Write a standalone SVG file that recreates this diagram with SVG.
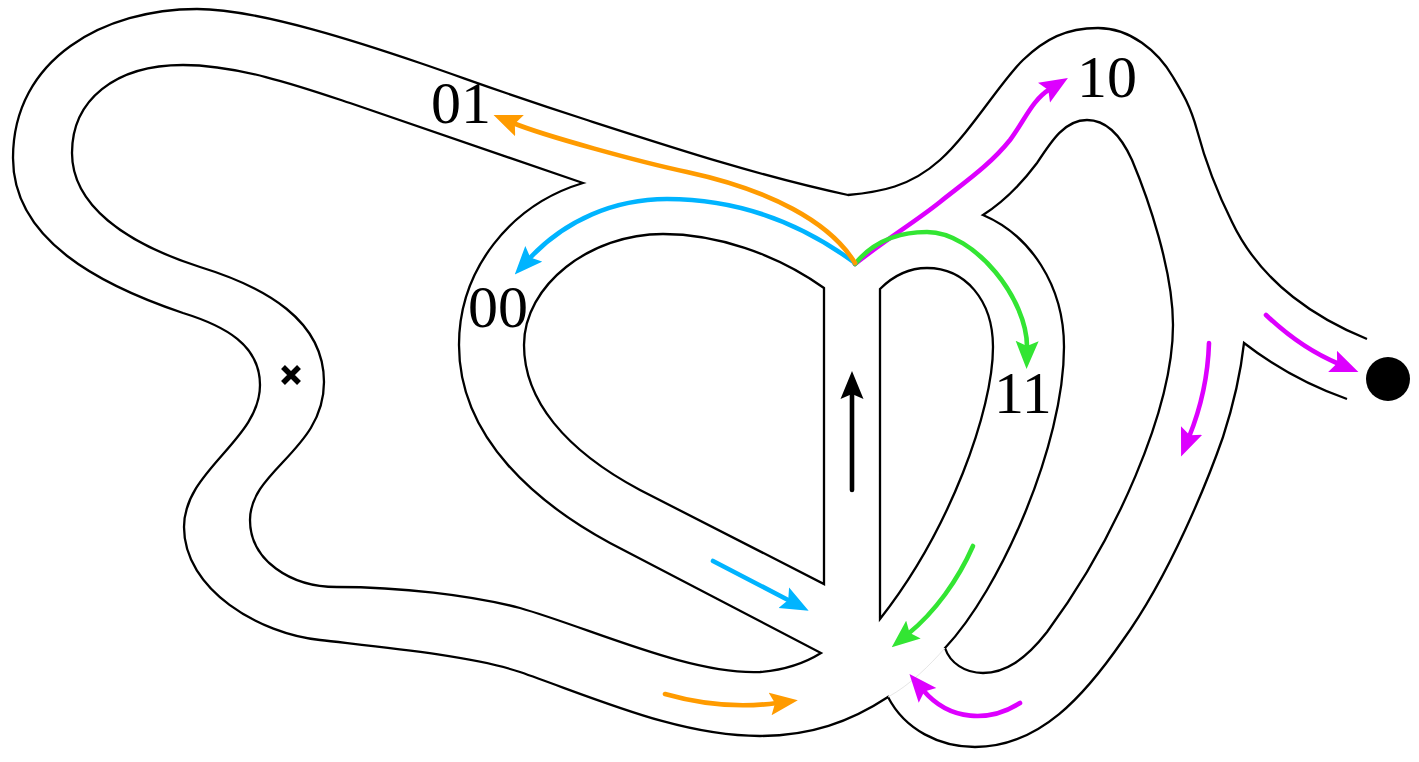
<svg xmlns="http://www.w3.org/2000/svg" width="1419" height="762" viewBox="0 0 1419 762">
<style>
.w{fill:none;stroke:#000;stroke-width:2.3;stroke-linejoin:miter}
.a{fill:none;stroke-width:4.6;stroke-linecap:round}
.t{font-family:"Liberation Serif","Times New Roman",serif;font-size:60px;fill:#000}
</style>
<defs>
<marker id="mk" viewBox="0 0 28 24" refX="7" refY="12" markerWidth="28" markerHeight="24" markerUnits="userSpaceOnUse" orient="auto"><path d="M28 12L0 23.500L5 12L0 .5Z" fill="#000"/></marker>
<marker id="mb" viewBox="0 0 28 24" refX="7" refY="12" markerWidth="28" markerHeight="24" markerUnits="userSpaceOnUse" orient="auto"><path d="M28 12L0 23.500L5 12L0 .5Z" fill="#00b4ff"/></marker>
<marker id="mo" viewBox="0 0 28 24" refX="7" refY="12" markerWidth="28" markerHeight="24" markerUnits="userSpaceOnUse" orient="auto"><path d="M28 12L0 23.500L5 12L0 .5Z" fill="#ff9b00"/></marker>
<marker id="mp" viewBox="0 0 28 24" refX="7" refY="12" markerWidth="28" markerHeight="24" markerUnits="userSpaceOnUse" orient="auto"><path d="M28 12L0 23.500L5 12L0 .5Z" fill="#dd00ff"/></marker>
<marker id="mg" viewBox="0 0 28 24" refX="7" refY="12" markerWidth="28" markerHeight="24" markerUnits="userSpaceOnUse" orient="auto"><path d="M28 12L0 23.500L5 12L0 .5Z" fill="#33e533"/></marker>
</defs>
<g id="walls">
<path id="outer-top" class="w" d="M1367 339C1320 320 1262 285 1232 222C1218 194 1205 160 1197 130C1190 105 1182 92 1173 77C1158 51 1130 28 1098 28C1066 28 1045 39 1023 60C1001 81 970 133 940 160C910 187 880 192 848 195C760 176 680 150 587 120C494 90 470 80 420 63C370 46 260 9 197 9C105 9 13 58 13 158C13 240 100 285 183 313C225 326 260 345 260 385C260 440 184 470 184 527C184 590 260 634 320 640C370 646 470 655 520 672C600 700 680 736 760 736C810 736 850 722 888 697C905 730 940 747 975 747C1040 747 1085 695 1123 640C1170 575 1208 480 1223 437C1236 397 1241 370 1244 343C1275 367 1310 386 1347 399"/>
<path id="outer-inner" class="w" d="M583 183L350 103C305 88 240 65 183 65C115 65 72 100 72 153C72 205 125 243 200 267C265 287 324 320 324 382C324 450 250 470 250 520C250 560 290 587 337 587C400 587 470 595 520 608C590 628 690 675 760 672C785 670 805 663 821 653L610 543C540 505 459 440 459 345C459 270 510 205 583 183Z"/>
<path id="loop-left" class="w" d="M824 288C775 253 715 234 663 234C590 234 524 285 524 345C524 400 565 450 640 490L824 584Z"/>
<path id="loop-right" class="w" d="M880 289C893 276 908 268 927 268C965 268 993 300 993 347C993 410 950 530 880 619Z"/>
<path id="loop-far" class="w" d="M983 215C1005 201 1022 183 1037 163C1052 140 1065 120 1087 120C1108 120 1122 138 1132 160C1148 198 1173 270 1173 325C1173 410 1115 540 1047 632C1025 660 1005 673 983 673C965 673 950 663 945 648C1000 590 1064 445 1064 347C1064 285 1030 235 983 215Z"/>
<path id="faint" fill="none" stroke="#e6e6e6" stroke-width="1" d="M888 697C910 685 930 665 945 648"/>
</g>
<g id="connectors">
<path class="a" stroke="#dd00ff" marker-end="url(#mp)" d="M855 264C885 240 915 222 940 202C965 182 990 165 1010 140C1025 120 1032 100 1050 89"/>
<path class="a" stroke="#33e533" marker-end="url(#mg)" d="M855 264C872 243 897 232 927 232C975 232 1028 300 1027 348"/>
<path class="a" stroke="#00b4ff" marker-end="url(#mb)" d="M855 263C790 215 725 199 667 199C615 199 565 220 529 259"/>
<path class="a" stroke="#ff9b00" marker-end="url(#mo)" d="M855 263C830 222 770 190 687 172C640 162 545 136 513 123"/>
<path class="a" stroke="#000" marker-end="url(#mk)" d="M852 490V392"/>
<path class="a" stroke="#00b4ff" marker-end="url(#mb)" d="M713 561L790 601"/>
<path class="a" stroke="#ff9b00" marker-end="url(#mo)" d="M665 694C700 704 740 708 777 703"/>
<path class="a" stroke="#33e533" marker-end="url(#mg)" d="M973 546C958 580 935 612 908 634"/>
<path class="a" stroke="#dd00ff" marker-end="url(#mp)" d="M1020 703C990 722 950 722 923 690"/>
<path class="a" stroke="#dd00ff" marker-end="url(#mp)" d="M1209 343C1208 375 1202 405 1189 437"/>
<path class="a" stroke="#dd00ff" marker-end="url(#mp)" d="M1266 315C1287 335 1310 352 1339 364"/>
</g>
<g id="start"><path d="M283 367L299 383M299 367L283 383" stroke="#000" stroke-width="5.5" fill="none"/></g>
<g id="end"><circle cx="1388" cy="379" r="22" fill="#000"/></g>
<g id="labels">
<text class="t" x="431" y="123">01</text>
<text class="t" x="1077" y="97">10</text>
<text class="t" x="468" y="327">00</text>
<text class="t" x="994" y="413">11</text>
</g>
</svg>
